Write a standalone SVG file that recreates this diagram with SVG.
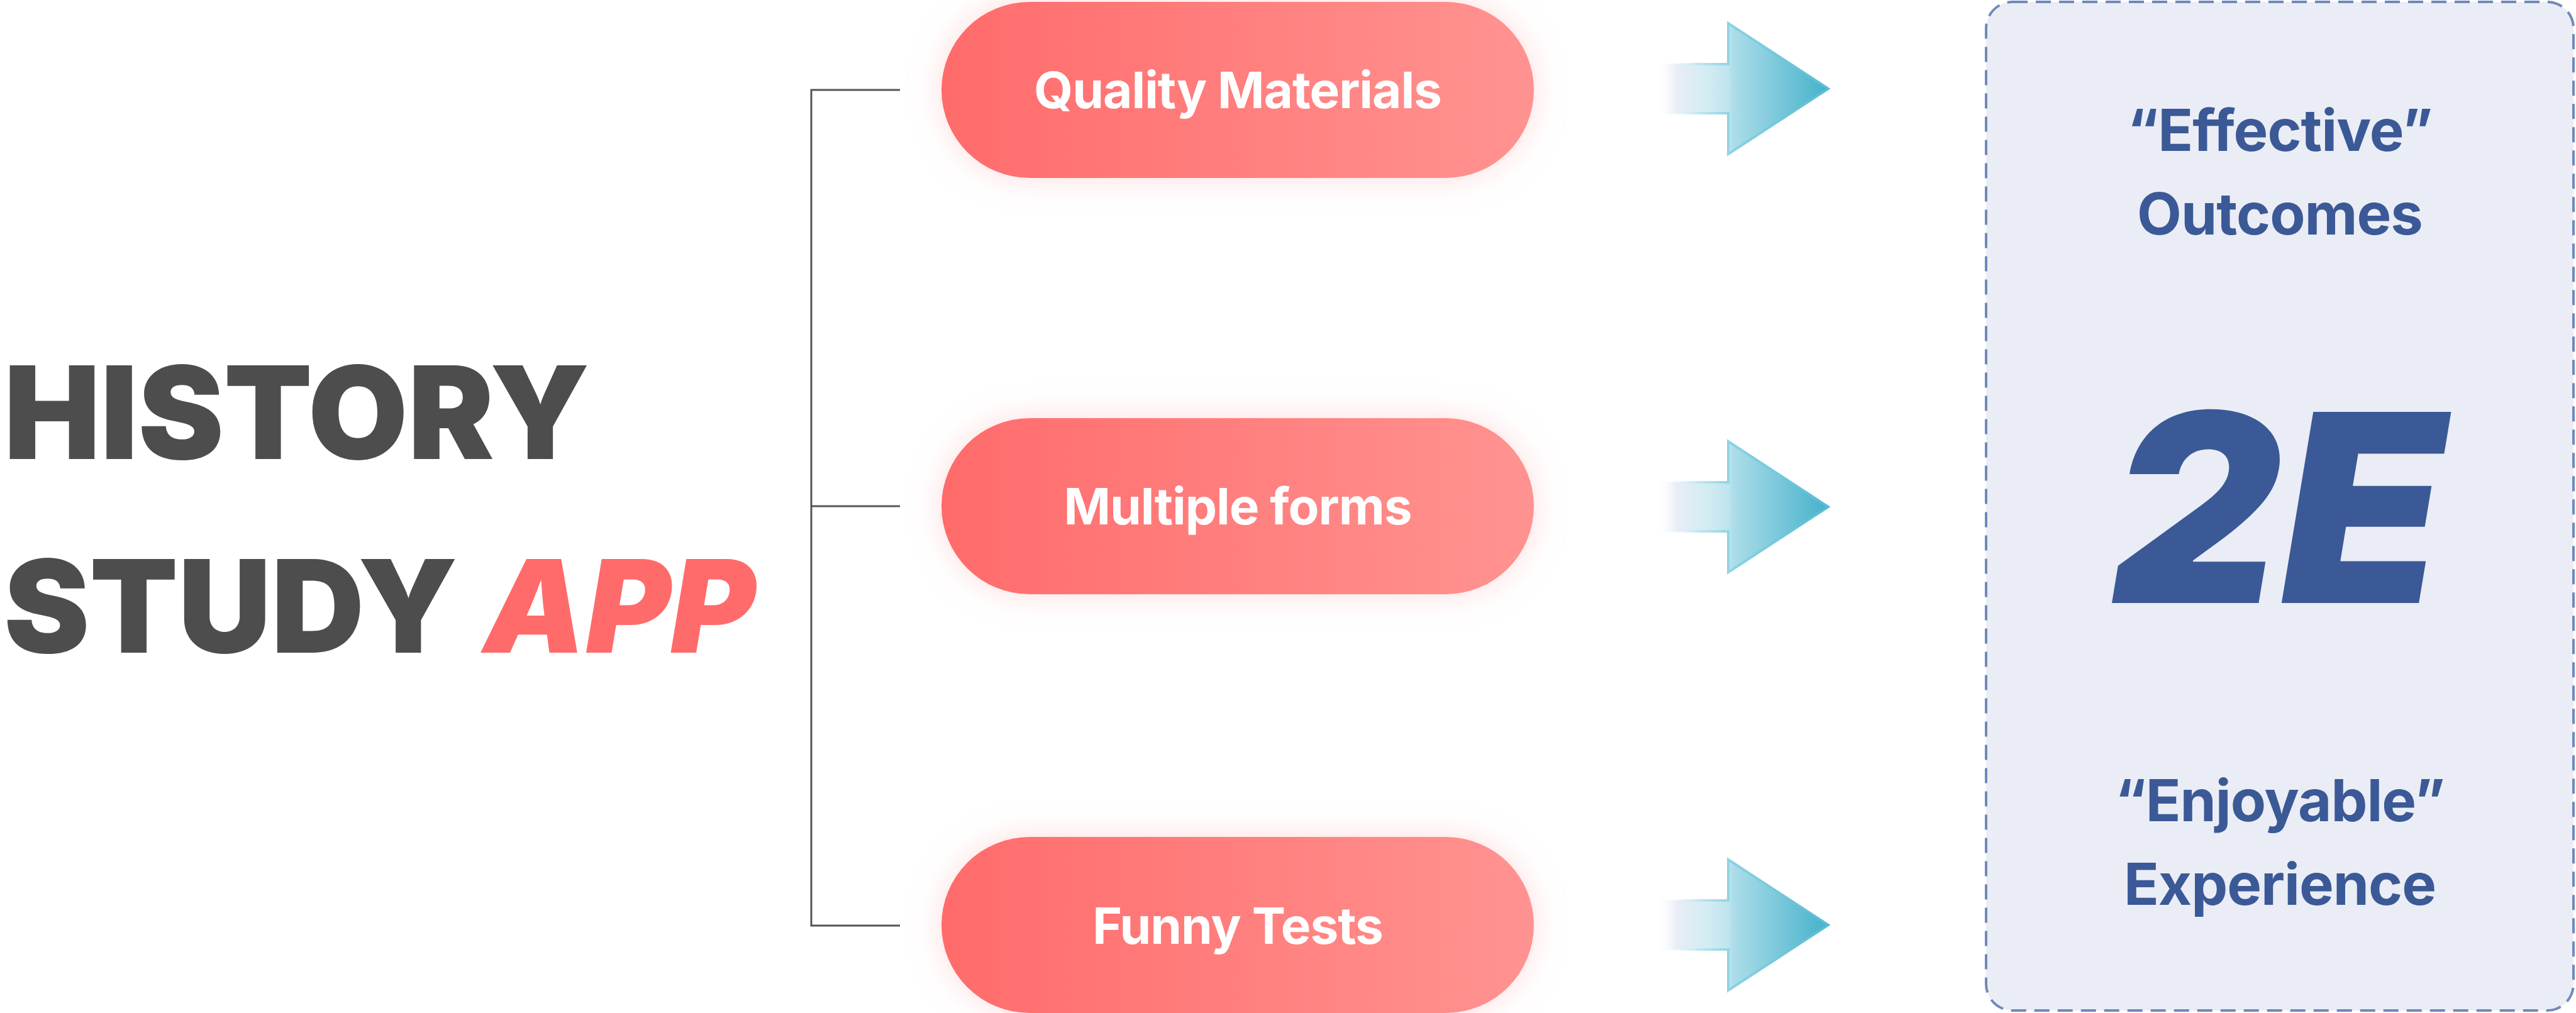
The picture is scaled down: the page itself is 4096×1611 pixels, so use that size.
<svg xmlns="http://www.w3.org/2000/svg" width="4096" height="1611" viewBox="0 0 4096 1611">
<style>
.title{font-family:Inter,"Liberation Sans",sans-serif;font-weight:900;font-size:205px;fill:#4d4d4d}
.app{fill:#ff6b6b;font-style:italic}
.pilltext{font-family:Inter,"Liberation Sans",sans-serif;font-weight:700;font-size:80px;fill:#ffffff;text-anchor:middle;letter-spacing:-1px}
.out{font-family:Inter,"Liberation Sans",sans-serif;font-weight:700;font-size:92px;fill:#3b5996;text-anchor:middle;letter-spacing:-1px}
.big{font-family:Inter,"Liberation Sans",sans-serif;font-weight:900;font-size:418px;fill:#3b5996;text-anchor:middle;font-style:italic}
.conn{stroke:#555555;stroke-width:3;fill:none}
.arrow{fill:url(#arrowGrad);stroke:url(#arrowStroke);stroke-width:4;stroke-linejoin:miter}
</style>
<defs>
<linearGradient id="pillGrad" x1="0" y1="0" x2="1" y2="0">
<stop offset="0" stop-color="#ff6b6b"/>
<stop offset="1" stop-color="#ff9391"/>
</linearGradient>
<linearGradient id="arrowGrad" gradientUnits="userSpaceOnUse" x1="0" y1="0" x2="274" y2="0">
<stop offset="0" stop-color="#ffffff" stop-opacity="0"/>
<stop offset="0.12" stop-color="#e9edf5"/>
<stop offset="0.3" stop-color="#d3ecf3"/>
<stop offset="0.42" stop-color="#bfe4ee"/>
<stop offset="0.45" stop-color="#acdde9"/>
<stop offset="1" stop-color="#44b1ca"/>
</linearGradient>
<linearGradient id="arrowStroke" gradientUnits="userSpaceOnUse" x1="0" y1="0" x2="274" y2="0">
<stop offset="0" stop-color="#ffffff" stop-opacity="0"/>
<stop offset="0.25" stop-color="#bfe6f0"/>
<stop offset="0.45" stop-color="#8ad2e2"/>
<stop offset="1" stop-color="#58bcd2"/>
</linearGradient>
<filter id="glow" x="-20%" y="-40%" width="140%" height="180%">
<feGaussianBlur in="SourceAlpha" stdDeviation="24"/>
<feColorMatrix type="matrix" values="0 0 0 0 1  0 0 0 0 0.55  0 0 0 0 0.55  0 0 0 0.6 0"/>
<feMerge><feMergeNode/><feMergeNode in="SourceGraphic"/></feMerge>
</filter>
<path id="arr" d="M0,-39 H115 V-104 L274,0 L115,104 V39 H0 Z"/>
</defs>
<rect width="4096" height="1611" fill="#ffffff"/>

<g id="title">
<text class="title" x="6" y="730">HISTORY</text>
<text class="title" x="6" y="1038">STUDY <tspan class="app">APP</tspan></text>
</g>

<g id="connectors">
<path class="conn" d="M1431,143 H1290 V1472 H1431 M1290,805 H1431"/>
<use href="#arr" class="arrow" transform="translate(2633,141)"/>
<use href="#arr" class="arrow" transform="translate(2633,806)"/>
<use href="#arr" class="arrow" transform="translate(2633,1471)"/>
</g>

<g id="node-quality">
<rect x="1497" y="3" width="942" height="280" rx="140" fill="url(#pillGrad)" filter="url(#glow)"/>
<text class="pilltext" x="1968" y="172">Quality Materials</text>
</g>
<g id="node-multiple">
<rect x="1497" y="665" width="942" height="280" rx="140" fill="url(#pillGrad)" filter="url(#glow)"/>
<text class="pilltext" x="1968" y="834">Multiple forms</text>
</g>
<g id="node-funny">
<rect x="1497" y="1331" width="942" height="280" rx="140" fill="url(#pillGrad)" filter="url(#glow)"/>
<text class="pilltext" x="1968" y="1501">Funny Tests</text>
</g>

<g id="node-2e">
<rect x="3158" y="3" width="934" height="1604" rx="42" fill="#eaedf5" stroke="#7089b9" stroke-width="4" stroke-dasharray="24 13"/>
<text class="out" x="3625" y="240">“Effective”</text>
<text class="out" x="3625" y="373">Outcomes</text>
<text class="big" x="3622" y="959">2E</text>
<text class="out" x="3625" y="1306">“Enjoyable”</text>
<text class="out" x="3625" y="1439">Experience</text>
</g>
</svg>
